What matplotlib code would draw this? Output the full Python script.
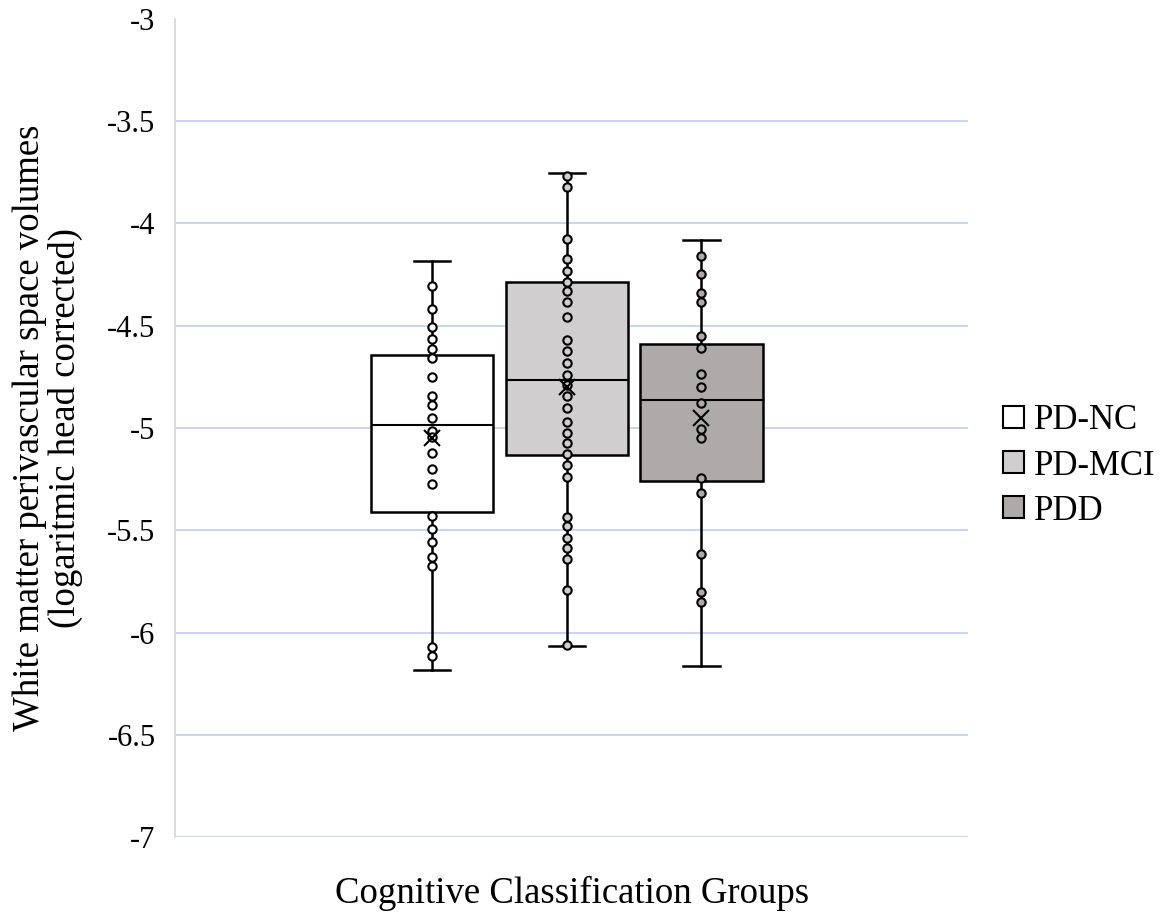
import matplotlib
matplotlib.use("Agg")
import matplotlib.pyplot as plt
from matplotlib.patches import Patch

plt.rcParams['font.family'] = ['Liberation Serif', 'DejaVu Serif']

# Data
groups = ['PD-NC', 'PD-MCI', 'PDD']
box_colors = ['#ffffff', '#d0cece', '#aeaaaa']

whis_hi = [-4.182, -3.755, -4.082]
q3 = [-4.643, -4.287, -4.588]
medians = [-4.985, -4.767, -4.865]
q1 = [-5.412, -5.132, -5.259]
whis_lo = [-6.183, -6.064, -6.164]
means = [-5.05, -4.798, -4.953]

pts_nc = [-4.306, -4.417, -4.508, -4.563, -4.614, -4.656, -4.752, -4.843, -4.889,
          -4.953, -5.013, -5.045, -5.124, -5.202, -5.274, -5.429, -5.494, -5.559,
          -5.629, -5.673, -6.069, -6.115]
pts_mci = [-3.768, -3.820, -4.076, -4.172, -4.232, -4.285, -4.328, -4.382, -4.459,
           -4.570, -4.623, -4.681, -4.741, -4.790, -4.843, -4.902, -4.969, -5.023,
           -5.075, -5.127, -5.183, -5.238, -5.434, -5.479, -5.539, -5.588, -5.641,
           -5.792, -6.061]
pts_pdd = [-4.157, -4.245, -4.341, -4.382, -4.550, -4.609, -4.738, -4.798, -4.878,
           -5.006, -5.047, -5.243, -5.316, -5.614, -5.800, -5.849]
points = [pts_nc, pts_mci, pts_pdd]

yticks = [-3, -3.5, -4, -4.5, -5, -5.5, -6, -6.5, -7]

fig = plt.figure(figsize=(11.72, 9.13), dpi=100)
ax = fig.add_axes([175 / 1172, 1 - 837 / 913, 793 / 1172, 818 / 913])

# Box stats
stats = []
for i in range(len(groups)):
    stats.append({'label': groups[i], 'whislo': whis_lo[i], 'q1': q1[i], 'med': medians[i],
                  'q3': q3[i], 'whishi': whis_hi[i], 'mean': means[i]})

positions = [1, 2, 3]
bp = ax.bxp(stats, positions=positions, widths=0.91, patch_artist=True,
            showmeans=False, showfliers=False, manage_ticks=False,
            boxprops=dict(linewidth=1.8, edgecolor='black'),
            medianprops=dict(color='black', linewidth=1.5),
            whiskerprops=dict(color='black', linewidth=1.8),
            capprops=dict(color='black', linewidth=1.8),
            capwidths=0.27)
for patch, c in zip(bp['boxes'], box_colors):
    patch.set_facecolor(c)
    patch.set_zorder(2)

# Inner points
for pos, vals, c in zip(positions, points, box_colors):
    ax.plot([pos] * len(vals), vals, 'o', markersize=6, markerfacecolor=c,
            markeredgecolor='black', markeredgewidth=1.5, linestyle='none', zorder=4)

# Mean markers
ax.plot(positions, means, 'x', color='black', markersize=11, markeredgewidth=1.5,
        linestyle='none', zorder=5)

ax.set_xlim(-0.91, 4.98)
ax.set_ylim(-7, -3)
ax.set_yticks(yticks)
ax.set_yticklabels([f'{t:g}' for t in yticks], fontsize=22)
ax.set_xticks([])
ax.tick_params(axis='y', length=0, pad=14)
ax.grid(axis='y', color='#c5d2ec', linewidth=1.3, zorder=0)
ax.set_axisbelow(True)
for gl, t in zip(ax.get_ygridlines(), yticks):
    if t == -3:
        gl.set_visible(False)
for s in ['top', 'right', 'bottom']:
    ax.spines[s].set_visible(False)
ax.spines['left'].set_color('#d9d9d9')
ax.spines['left'].set_linewidth(1.3)

fig.text(48 / 1172, 1 - 428 / 913,
         'White matter perivascular space volumes\n(logaritmic head corrected)',
         rotation=90, ha='center', va='center', fontsize=26.5, linespacing=1.05)
fig.text(572 / 1172, 1 - 893 / 913, 'Cognitive Classification Groups',
         ha='center', va='center', fontsize=26.5)

handles = [Patch(facecolor=c, edgecolor='black', linewidth=1.5) for c in box_colors]
fig.legend(handles, groups, loc='center left', bbox_to_anchor=(1003 / 1172, 1 - 466 / 913),
           frameon=False, fontsize=25, handlelength=0.6, handleheight=0.6,
           handletextpad=0.3, labelspacing=0.35, borderaxespad=0, borderpad=0)

fig.savefig('out.png', dpi=100)
